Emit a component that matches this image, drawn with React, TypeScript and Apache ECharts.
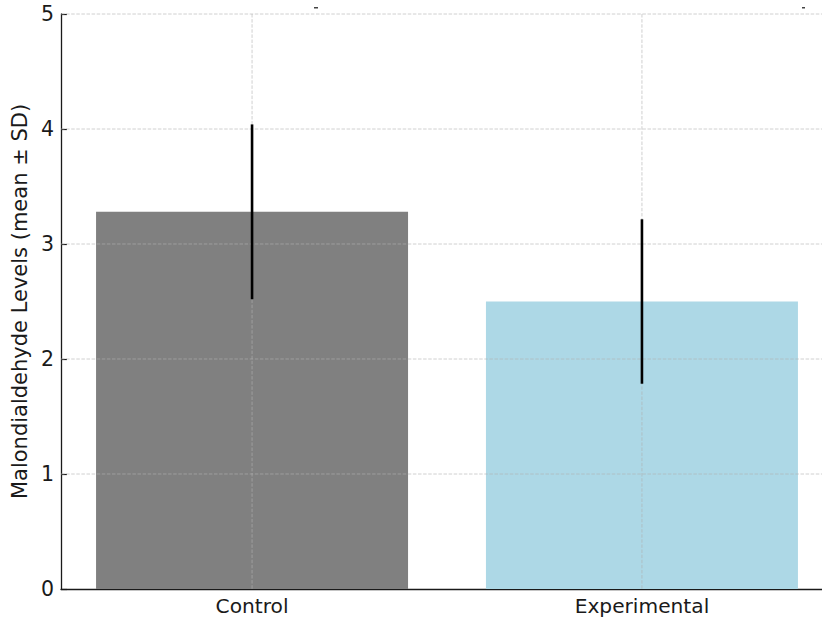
import React, { useEffect, useRef } from "react";
import * as echarts from "echarts";

const categories = ["Control", "Experimental"];
const means = [3.28, 2.5];
const sds = [0.76, 0.715];
const barColors = ["#808080", "#ADD8E6"];
const yTicks = [0, 1, 2, 3, 4, 5];
const yGridValues = [1, 2, 3, 4, 5];

export default function App() {
  const ref = useRef<HTMLDivElement>(null);
  useEffect(() => {
    if (!ref.current) return;
    const chart = echarts.init(ref.current, undefined, { renderer: "svg" });
    const font = "DejaVu Sans";
    const gridColor = "rgba(176,176,176,0.6)";
    const dash = [3.5, 1.6];
    const yMin = yTicks[0];
    const yMax = yTicks[yTicks.length - 1];
    chart.setOption({
      animation: false,
      textStyle: { fontFamily: font },
      grid: { left: 61, right: -11, top: 14, bottom: 31, containLabel: false, outerBoundsMode: "none" },
      xAxis: {
        type: "value",
        min: -0.49,
        max: 1.49,
        axisLine: { show: true, onZero: false, lineStyle: { color: "#1a1a1a", width: 1.3 } },
        axisTick: { show: true, inside: true, customValues: [0, 1], length: 6, lineStyle: { color: "#1a1a1a", width: 1.2 } },
        axisLabel: {
          customValues: [0, 1],
          formatter: (v: number) => categories[Math.round(v)] ?? "",
          fontSize: 20.2,
          color: "#1a1a1a",
          margin: 7,
          fontFamily: font,
        },
        splitLine: { show: false },
      },
      yAxis: {
        type: "value",
        min: yMin,
        max: yMax,
        interval: 1,
        name: "Malondialdehyde Levels (mean ± SD)",
        nameLocation: "middle",
        nameGap: 24,
        nameTextStyle: { fontSize: 21, color: "#1a1a1a", fontFamily: font },
        axisLine: { show: true, onZero: false, lineStyle: { color: "#1a1a1a", width: 1.3 } },
        axisTick: { show: true, inside: true, length: 6, lineStyle: { color: "#1a1a1a", width: 1.2 } },
        axisLabel: { fontSize: 20.5, color: "#1a1a1a", margin: 7, fontFamily: font },
        splitLine: { show: false },
      },
      series: [
        {
          type: "bar",
          barWidth: 312,
          z: 2,
          data: means.map((m, i) => ({ value: [i, m], itemStyle: { color: barColors[i] } })),
        },
        {
          type: "custom",
          z: 3,
          silent: true,
          data: [[0, yMin]],
          renderItem: (params: any, api: any) => {
            const cs = params.coordSys;
            const children: any[] = [];
            yGridValues.forEach((v) => {
              const p = api.coord([0, v]);
              children.push({
                type: "line",
                shape: { x1: cs.x, y1: p[1], x2: cs.x + cs.width, y2: p[1] },
                style: { stroke: gridColor, lineWidth: 1, lineDash: dash, fill: null },
              });
            });
            categories.forEach((_, i) => {
              const top = api.coord([i, yMax]);
              const bot = api.coord([i, yMin]);
              children.push({
                type: "line",
                shape: { x1: top[0], y1: top[1], x2: bot[0], y2: bot[1] },
                style: { stroke: gridColor, lineWidth: 1, lineDash: dash, fill: null },
              });
            });
            return { type: "group", children };
          },
        },
        {
          type: "custom",
          z: 4,
          silent: true,
          data: means.map((m, i) => [i, m - sds[i], m + sds[i]]),
          renderItem: (params: any, api: any) => {
            const lo = api.coord([api.value(0), api.value(1)]);
            const hi = api.coord([api.value(0), api.value(2)]);
            return {
              type: "line",
              shape: { x1: lo[0], y1: lo[1], x2: hi[0], y2: hi[1] },
              style: { stroke: "#000", lineWidth: 2.6, fill: null },
            };
          },
        },
      ],
      graphic: [
        { type: "rect", shape: { x: 314, y: 7, width: 4, height: 1.5 }, style: { fill: "#444" } },
        { type: "rect", shape: { x: 802, y: 7, width: 3, height: 1.5 }, style: { fill: "#444" } },
      ],
    });
    return () => chart.dispose();
  }, []);
  return (
    <div
      ref={ref}
      style={{ position: "absolute", left: 0, top: 0, width: 822, height: 620, background: "#fff" }}
    />
  );
}
